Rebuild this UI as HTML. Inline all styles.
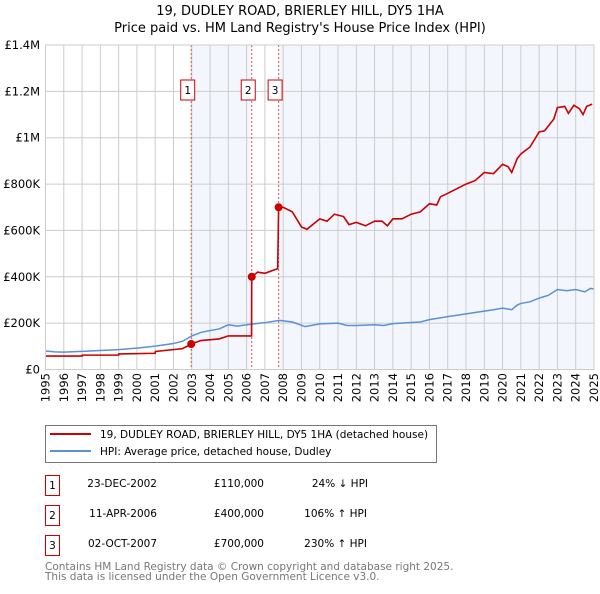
<!DOCTYPE html>
<html><head><meta charset="utf-8"><style>
body{margin:0;background:#fff;font-family:"DejaVu Sans","Liberation Sans",sans-serif;}
svg text{font-family:"DejaVu Sans","Liberation Sans",sans-serif;}
</style></head><body>
<svg id="c" width="600" height="590" xmlns="http://www.w3.org/2000/svg">
<text x="300" y="15" text-anchor="middle" font-size="13" fill="#000">19, DUDLEY ROAD, BRIERLEY HILL, DY5 1HA</text>
<text x="300" y="32" text-anchor="middle" font-size="13" fill="#000">Price paid vs. HM Land Registry's House Price Index (HPI)</text>
<g id="plot"></g>
<g>
<rect x="45.5" y="425.5" width="391" height="37" fill="#fff" stroke="#777"/>
<line x1="50" y1="434" x2="91" y2="434" stroke="#cc0000" stroke-width="2"/>
<text x="100" y="438" font-size="10.5">19, DUDLEY ROAD, BRIERLEY HILL, DY5 1HA (detached house)</text>
<line x1="50" y1="451" x2="91" y2="451" stroke="#5b8fd6" stroke-width="2"/>
<text x="100" y="455" font-size="10.5">HPI: Average price, detached house, Dudley</text>
</g>
<g font-size="10.5">
<rect x="45.5" y="475.5" width="14" height="20" fill="none" stroke="#cc0000"/><text x="52.5" y="489" text-anchor="middle">1</text>
<text x="157" y="487" text-anchor="end">23-DEC-2002</text><text x="264" y="487" text-anchor="end">£110,000</text><text x="368" y="487" text-anchor="end">24% ↓ HPI</text>
<rect x="45.5" y="505.5" width="14" height="20" fill="none" stroke="#cc0000"/><text x="52.5" y="519" text-anchor="middle">2</text>
<text x="157" y="517" text-anchor="end">11-APR-2006</text><text x="264" y="517" text-anchor="end">£400,000</text><text x="367" y="517" text-anchor="end">106% ↑ HPI</text>
<rect x="45.5" y="535.5" width="14" height="20" fill="none" stroke="#cc0000"/><text x="52.5" y="549" text-anchor="middle">3</text>
<text x="157" y="547" text-anchor="end">02-OCT-2007</text><text x="264" y="547" text-anchor="end">£700,000</text><text x="367" y="547" text-anchor="end">230% ↑ HPI</text>
</g>
<text x="45" y="570" font-size="10.5" fill="#777">Contains HM Land Registry data © Crown copyright and database right 2025.</text>
<text x="45" y="580" font-size="10.5" fill="#777">This data is licensed under the Open Government Licence v3.0.</text>
</svg>
<script>
const yTicks=[0,200000,400000,600000,800000,1000000,1200000,1400000];
const yTickLabels=["£0","£200K","£400K","£600K","£800K","£1M","£1.2M","£1.4M"];
const xYears=[1995,1996,1997,1998,1999,2000,2001,2002,2003,2004,2005,2006,2007,2008,2009,2010,2011,2012,2013,2014,2015,2016,2017,2018,2019,2020,2021,2022,2023,2024,2025];
const saleDates=[2002.97,2006.28,2007.75];
const salePrices=[110000,400000,700000];
const saleLabels=["1","2","3"];
const hpiDates=[1995,1995.5,1996,1997,1998,1999,2000,2001,2002,2002.5,2003,2003.5,2004,2004.5,2005,2005.5,2006,2007,2007.8,2008.5,2009.2,2010,2011,2011.5,2012,2013,2013.5,2014,2015,2015.5,2016,2017,2018,2019,2019.5,2020,2020.5,2020.8,2021,2021.5,2022,2022.5,2023,2023.5,2024,2024.5,2024.8,2025];
const hpiValues=[80000,76000,75000,78000,82000,86000,92000,101000,112000,122000,145000,160000,168000,175000,193000,187000,193000,202000,212000,205000,185000,197000,200000,190000,190000,193000,190000,198000,203000,205000,215000,228000,240000,252000,258000,265000,258000,278000,285000,292000,308000,320000,345000,340000,345000,335000,350000,348000];
const propDates=[1995,1997,1997.01,1999,1999.01,2001,2001.01,2002.5,2002.97,2003.5,2004.5,2005,2006.27,2006.28,2006.6,2007,2007.7,2007.75,2008,2008.5,2009,2009.3,2010,2010.4,2010.8,2011.3,2011.6,2012,2012.5,2013,2013.4,2013.7,2014,2014.5,2015,2015.5,2016,2016.4,2016.6,2017,2017.5,2018,2018.5,2019,2019.5,2020,2020.3,2020.5,2020.8,2021,2021.5,2022,2022.3,2022.8,2023,2023.4,2023.6,2023.9,2024.2,2024.4,2024.6,2024.9];
const propValues=[58000,58000,62000,62000,67000,70000,78000,90000,110000,125000,132000,145000,145000,400000,420000,415000,435000,700000,700000,680000,615000,605000,650000,640000,670000,660000,625000,635000,620000,640000,640000,620000,650000,650000,670000,680000,715000,710000,745000,760000,780000,800000,815000,850000,845000,885000,875000,850000,910000,930000,960000,1025000,1030000,1080000,1130000,1135000,1105000,1140000,1125000,1100000,1135000,1145000];
const L=45.5,R=594,T=45,B=369.5;
const xs=d=>L+(d-1995)/30*(R-L);
const ys=v=>B-v/1400000*(B-T);
const NS="http://www.w3.org/2000/svg";
const g=document.getElementById('plot');
function mk(t,a){const e=document.createElementNS(NS,t);for(const k in a)e.setAttribute(k,a[k]);g.appendChild(e);return e;}
let e;
e=mk('rect',{x:xs(saleDates[0]),y:T,width:xs(saleDates[1])-xs(saleDates[0]),height:B-T,fill:'#eef3fc',opacity:0.7});


e=mk('rect',{x:xs(saleDates[2]),y:T,width:R-xs(saleDates[2]),height:B-T,fill:'#eef3fc',opacity:0.7});


xYears.forEach(y=>{
 e=mk('line',{x1:xs(y),x2:xs(y),y1:T,y2:B,stroke:'#ccc','stroke-width':1});
 
 
 e=mk('text',{transform:`translate(${xs(y)+4},373) rotate(-90)`,'text-anchor':'end','font-size':11.5});
 e.textContent=y;
 
 
});
yTicks.forEach((v,i)=>{
 e=mk('line',{x1:L,x2:R,y1:ys(v),y2:ys(v),stroke:'#ccc','stroke-width':1});
 
 
 e=mk('text',{x:40,y:ys(v)+4,'text-anchor':'end','font-size':11.5});
 e.textContent=yTickLabels[i];
 
 
});
saleDates.forEach((d,i)=>{
 e=mk('line',{x1:xs(d),x2:xs(d),y1:T,y2:B,stroke:'#e05050','stroke-width':1,'stroke-dasharray':'2,2'});
 
 
 e=mk('rect',{x:xs(d)-10.5,y:80,width:14,height:20,fill:'#fff',stroke:'#cc0000'});
 
 
 e=mk('text',{x:xs(d)-3.5,y:94,'text-anchor':'middle','font-size':10.5});
 e.textContent=saleLabels[i];
 
 
});
e=mk('polyline',{points:hpiDates.map((d,i)=>xs(d)+','+ys(hpiValues[i])).join(' '),fill:'none',stroke:'#5b8fd6','stroke-width':1.5});


e=mk('polyline',{points:propDates.map((d,i)=>xs(d)+','+ys(propValues[i])).join(' '),fill:'none',stroke:'#cc0000','stroke-width':1.6});


saleDates.forEach((d,i)=>{
 e=mk('circle',{cx:xs(d),cy:ys(salePrices[i]),r:4,fill:'#cc0000'});
 
 
});
e=mk('rect',{x:L,y:T,width:R-L,height:B-T,fill:'none',stroke:'#ccc'});


</script>
</body></html>
